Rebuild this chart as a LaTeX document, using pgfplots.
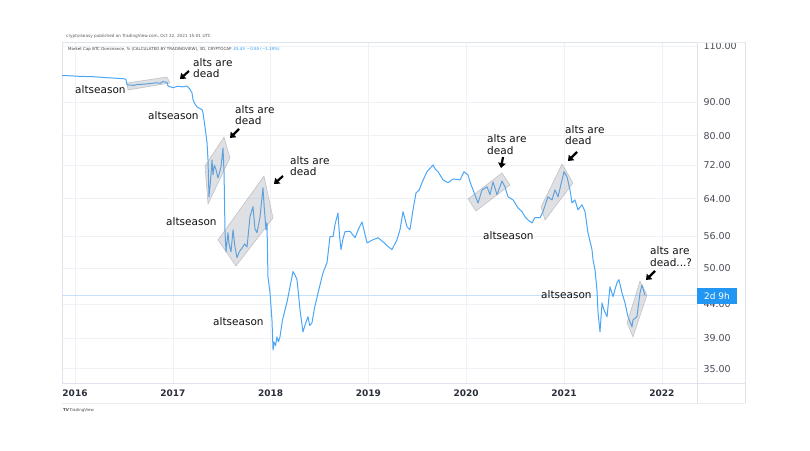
\documentclass[border=0pt]{standalone}
\usepackage{fontspec}
\setmainfont{DejaVu Sans}
\usepackage{pgfplots}
\pgfplotsset{compat=1.18}
\usetikzlibrary{arrows.meta}
\definecolor{tvline}{HTML}{4AA6F6}
\definecolor{tvgrid}{HTML}{EEF1F6}
\definecolor{tvborder}{HTML}{E0E3EB}
\definecolor{tvtext}{HTML}{2A2E39}
\definecolor{notec}{HTML}{111111}
\definecolor{shade}{HTML}{9598A1}
\definecolor{tvblue}{HTML}{2196F3}
\definecolor{lastline}{HTML}{C6E2FB}

\begin{document}
\begin{tikzpicture}
\path[use as bounding box] (0,0) rectangle (810pt,450pt);
\begin{axis}[
    at={(62pt,67pt)}, anchor=south west, scale only axis,
    width=635pt, height=341pt,
    xmin=2015.867, xmax=2022.36,
    ymode=log, ymin=33.28, ymax=111.5,
    xtick={2016,2017,2018,2019,2020,2021,2022},
    xticklabels={2016,2017,2018,2019,2020,2021,2022},
    ytick={35,39,44,50,56,64,72,80,90,110},
    yticklabels={35.00,39.00,44.00,50.00,56.00,64.00,72.00,80.00,90.00,110.00},
    yticklabel pos=right,
    major tick length=0pt,
    grid=major,
    major grid style={tvgrid, line width=0.6pt},
    axis line style={tvborder, line width=0.6pt},
    xticklabel style={font=\bfseries\fontsize{9}{10}\selectfont, text=tvtext, yshift=-3pt},
    yticklabel style={font=\fontsize{9.5}{11}\selectfont, text=tvtext!85, anchor=west, xshift=3pt},
]
% last price line
\draw[lastline, line width=0.8pt] (axis cs:2015.867,45.43) -- (axis cs:2022.36,45.43);

% BTC dominance
\addplot[tvline, line width=1pt, line join=round] coordinates {
(2015.867,99.0) (2015.95,98.9) (2016.05,98.7) (2016.184,98.6) (2016.30,98.3)
(2016.40,98.1) (2016.491,97.9) (2016.52,97.7) (2016.532,95.8) (2016.60,95.6)
(2016.634,95.9) (2016.70,96.0) (2016.767,96.2) (2016.83,96.5) (2016.87,96.3)
(2016.90,96.9) (2016.941,96.6) (2016.951,95.4) (2017.002,94.8) (2017.05,95.3)
(2017.10,95.1) (2017.145,95.4) (2017.17,94.5) (2017.196,93.1) (2017.207,90.8)
(2017.227,89.5) (2017.247,88.6) (2017.299,87.7) (2017.309,86.7) (2017.329,82.5)
(2017.350,78.0) (2017.360,73.4) (2017.370,64.4) (2017.385,68.0) (2017.401,73.4)
(2017.411,69.6) (2017.425,72.0) (2017.442,70.9) (2017.462,68.9) (2017.475,70.0)
(2017.493,71.6) (2017.513,76.6) (2017.524,70.1) (2017.534,56.7) (2017.544,53.0)
(2017.564,56.7) (2017.575,54.5) (2017.595,53.0) (2017.616,57.3) (2017.635,54.0)
(2017.656,51.9) (2017.68,53.0) (2017.708,53.7) (2017.735,54.5) (2017.759,53.9)
(2017.789,60.0) (2017.820,62.2) (2017.84,57.5) (2017.861,56.7) (2017.892,60.0)
(2017.922,66.5) (2017.935,62.0) (2017.953,57.3) (2017.963,58.7) (2017.973,48.5)
(2017.994,45.8) (2018.014,41.6) (2018.025,37.4) (2018.035,38.5) (2018.05,38.0)
(2018.065,39.2) (2018.08,38.5) (2018.096,39.2) (2018.12,41.5) (2018.147,43.1)
(2018.17,44.5) (2018.198,46.8) (2018.229,49.4) (2018.25,48.8) (2018.270,48.0)
(2018.301,43.1) (2018.331,39.9) (2018.355,41.0) (2018.382,42.1) (2018.40,40.8)
(2018.423,41.2) (2018.45,43.5) (2018.485,45.8) (2018.536,49.2) (2018.577,51.0)
(2018.607,55.9) (2018.638,55.9) (2018.66,58.5) (2018.689,60.8) (2018.705,56.0)
(2018.720,53.4) (2018.74,55.5) (2018.761,56.9) (2018.812,57.0) (2018.863,55.7)
(2018.90,57.5) (2018.935,58.9) (2018.986,54.7) (2019.047,55.3) (2019.098,55.7)
(2019.149,54.9) (2019.20,54.0) (2019.241,53.4) (2019.292,55.3) (2019.323,57.3)
(2019.354,61.1) (2019.395,57.9) (2019.425,57.3) (2019.456,61.5) (2019.487,65.3)
(2019.52,66.0) (2019.548,67.7) (2019.599,70.4) (2019.661,72.1) (2019.685,71.0)
(2019.712,70.4) (2019.763,68.4) (2019.814,67.7) (2019.865,68.6) (2019.937,68.4)
(2019.978,70.4) (2020.018,69.6) (2020.039,67.9) (2020.070,66.0) (2020.121,63.0)
(2020.162,66.0) (2020.213,66.7) (2020.243,64.9) (2020.274,67.9) (2020.315,64.9)
(2020.366,68.1) (2020.397,66.7) (2020.427,64.4) (2020.479,63.7) (2020.530,61.9)
(2020.571,61.1) (2020.601,60.0) (2020.632,59.3) (2020.673,58.7) (2020.703,59.8)
(2020.755,59.8) (2020.785,61.1) (2020.836,64.4) (2020.877,63.7) (2020.908,66.0)
(2020.939,64.4) (2020.980,68.4) (2021.000,70.4) (2021.031,69.1) (2021.061,66.0)
(2021.082,63.0) (2021.112,63.7) (2021.143,61.5) (2021.184,62.6) (2021.215,61.1)
(2021.245,56.7) (2021.286,53.4) (2021.297,51.5) (2021.317,49.7) (2021.337,46.3)
(2021.348,42.7) (2021.368,39.9) (2021.389,44.2) (2021.409,43.1) (2021.440,42.1)
(2021.470,46.8) (2021.501,45.2) (2021.542,47.5) (2021.562,48.0) (2021.593,45.8)
(2021.624,44.2) (2021.654,42.1) (2021.695,40.6) (2021.705,41.6) (2021.746,42.1)
(2021.777,45.8) (2021.797,47.1) (2021.828,45.43)
};
\end{axis}

% overlay in pixel units (origin top left)
\begin{scope}[x=1pt,y=-1pt,yshift=450pt]
% pane borders
\draw[tvborder, line width=0.6pt] (697,42) -- (697,403);
\draw[tvborder, line width=0.6pt] (745,42) -- (745,403);
\draw[tvborder, line width=0.6pt] (62,383) -- (745,383);
\draw[tvborder!70, line width=0.5pt] (62,403) -- (745,403);
\draw[tvborder!70, line width=0.5pt] (697,42) -- (745,42);

% header
\node[anchor=west, inner sep=0, font=\fontsize{4.2}{5}\selectfont, text=black!65] at (66,36)
  {cryptoiseasy published on TradingView.com, Oct 22, 2021 15:01 UTC};
\node[anchor=west, inner sep=0, font=\fontsize{4}{5}\selectfont, text=black!75] at (68,49)
  {Market Cap BTC Dominance, \% (CALCULATED BY TRADINGVIEW), 3D, CRYPTOCAP\enspace
   \textcolor{tvblue}{45.43\enspace −0.55 (−1.19\%)}};

% last value tag
\fill[tvblue] (697,288) rectangle (737,303.5);
\node[white, inner sep=0, font=\fontsize{9}{10}\selectfont] at (717,295.8) {2d 9h};

% shaded boxes
\begin{scope}[fill=shade, fill opacity=0.3, draw=shade, draw opacity=0.5, line width=0.6pt]
\filldraw (127,83) -- (167,77) -- (170,83) -- (128,90) -- cycle;
\filldraw (224,137) -- (230,158) -- (208,204) -- (205,166) -- cycle;
\filldraw (264,176) -- (273,218) -- (236,266) -- (218,240) -- cycle;
\filldraw (468,199) -- (502,173) -- (510,185) -- (476,211) -- cycle;
\filldraw (562,164) -- (573,183) -- (545,220) -- (541,207) -- cycle;
\filldraw (640,281) -- (647,295) -- (633,337) -- (627,323) -- cycle;
\end{scope}

% arrows
\begin{scope}[line width=2.2pt, -{Triangle[length=5pt,width=7.5pt]}, black]
\draw (189,71) -- (180,79);
\draw (239,129) -- (230,138);
\draw (283,176) -- (274,184);
\draw (503,157) -- (501,168);
\draw (577,152) -- (568,161);
\draw (655,271) -- (646,280);
\end{scope}

% notes
\begin{scope}[every node/.style={anchor=west, inner sep=0, text=notec, font=\fontsize{10.5}{12}\selectfont}]
\node at (75,90) {altseason};
\node at (193,63) {alts are};
\node at (193,74) {dead};
\node at (148,116) {altseason};
\node at (235,110) {alts are};
\node at (235,121) {dead};
\node at (166,222) {altseason};
\node at (290,161) {alts are};
\node at (290,172) {dead};
\node at (213,322) {altseason};
\node at (487,139) {alts are};
\node at (487,151) {dead};
\node at (483,236) {altseason};
\node at (565,130) {alts are};
\node at (565,141) {dead};
\node at (541,295) {altseason};
\node at (650,251) {alts are};
\node at (650,263) {dead...?};
\end{scope}

% logo
\node[anchor=west, inner sep=0, font=\fontsize{4}{5}\selectfont, text=black!70] at (63,410)
  {\textbf{TV}\,TradingView};
\end{scope}
\end{tikzpicture}
\end{document}
